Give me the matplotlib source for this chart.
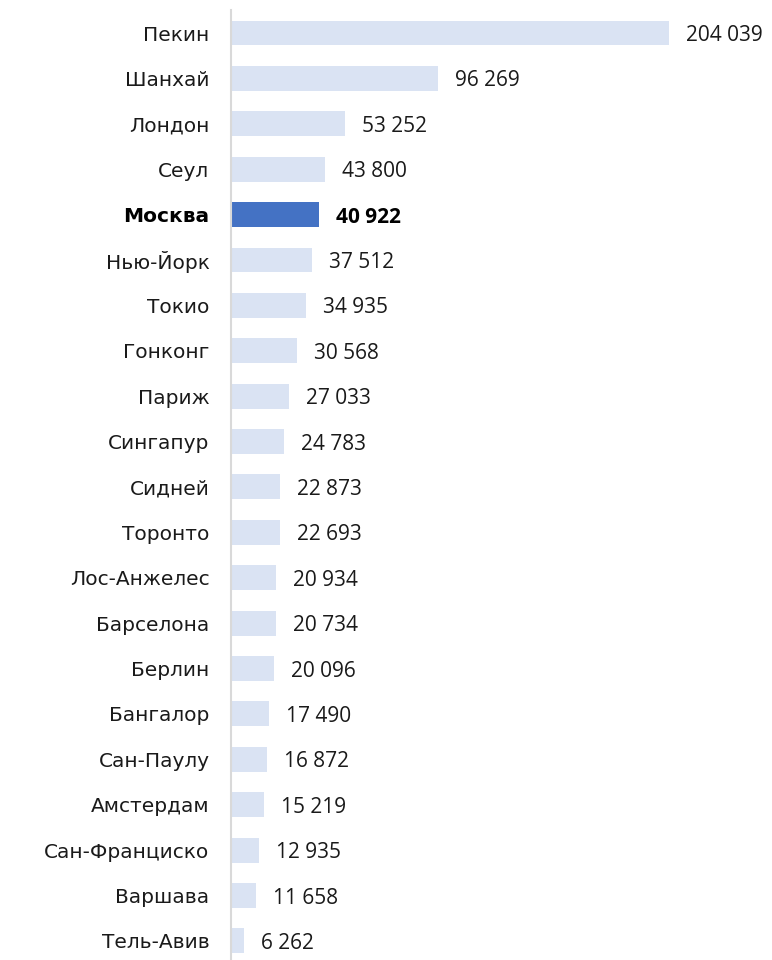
import matplotlib
matplotlib.use("Agg")
import matplotlib.pyplot as plt
from matplotlib.transforms import offset_copy

cities = ["Пекин", "Шанхай", "Лондон", "Сеул", "Москва", "Нью-Йорк", "Токио", "Гонконг",
          "Париж", "Сингапур", "Сидней", "Торонто", "Лос-Анжелес", "Барселона", "Берлин",
          "Бангалор", "Сан-Паулу", "Амстердам", "Сан-Франциско", "Варшава", "Тель-Авив"]
values = [204039, 96269, 53252, 43800, 40922, 37512, 34935, 30568, 27033, 24783, 22873,
          22693, 20934, 20734, 20096, 17490, 16872, 15219, 12935, 11658, 6262]
highlight = "Москва"

plt.rcParams['font.family'] = ['DejaVu Sans']

fig = plt.figure(figsize=(7.72, 9.6), dpi=100)
ax = fig.add_axes([231/772, 0, 1 - 231/772, 950/960])

ypos = list(range(len(cities)))
colors = ["#4472c4" if c == highlight else "#dae3f3" for c in cities]
ax.barh(ypos, values, height=0.55, color=colors)

ax.set_xlim(0, 204039 * 541 / 438)
ax.set_ylim(20.42, -0.507)

for s in ["top", "right", "bottom"]:
    ax.spines[s].set_visible(False)
ax.spines["left"].set_color("#d9d9d9")
ax.spines["left"].set_linewidth(1.5)
ax.set_xticks([])
ax.set_yticks(ypos)
ax.set_yticklabels(cities)
ax.tick_params(axis="y", length=0, pad=15.5, labelsize=14.5, labelcolor="#1a1a1a")
for lbl in ax.get_yticklabels():
    if lbl.get_text() == highlight:
        lbl.set_fontweight("bold")
        lbl.set_color("black")

trans = offset_copy(ax.transData, fig=fig, x=17, y=0, units="dots")
for y, v, c in zip(ypos, values, cities):
    txt = f"{v:,}".replace(",", " ")
    ax.text(v, y, txt, transform=trans, va="center_baseline", ha="left", fontsize=15,
            family=['Open Sans', 'DejaVu Sans'],
            color="black" if c == highlight else "#1a1a1a",
            fontweight="bold" if c == highlight else "normal")

fig.savefig("out.png", dpi=100)
